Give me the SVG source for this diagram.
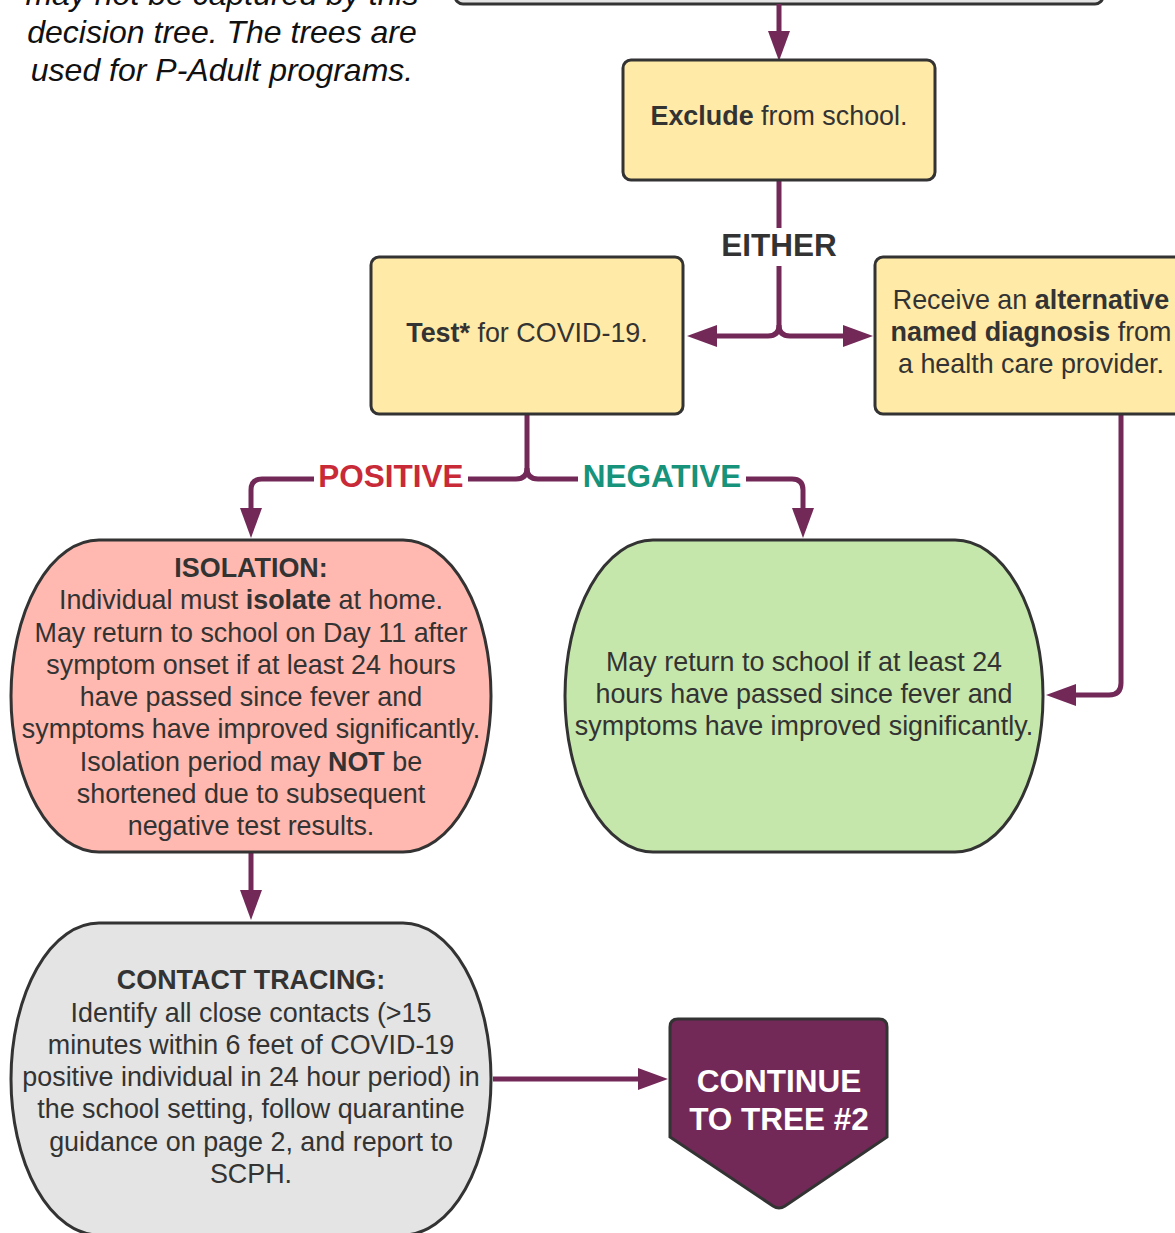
<svg xmlns="http://www.w3.org/2000/svg" width="1175" height="1233" viewBox="0 0 1175 1233">
<style>
text{font-family:"Liberation Sans",Arial,sans-serif;}
.t{font-size:26.9px;fill:#333333;text-anchor:middle;}
.b{font-weight:bold;}
.node{stroke:#333333;stroke-width:3;}
.yel{fill:#ffeaa7;}
.conn{fill:none;stroke:#722958;stroke-width:5;marker-end:url(#ah);}
.seg{fill:none;stroke:#722958;stroke-width:5;}
.lbl{font-size:31.5px;font-weight:bold;text-anchor:middle;}
.note{font-size:32px;font-style:italic;fill:#111111;text-anchor:middle;}
</style>
<defs>
<marker id="ah" viewBox="0 0 30 22" refX="10" refY="11" markerWidth="30" markerHeight="22" markerUnits="userSpaceOnUse" orient="auto">
<path d="M0,0 L30,11 L0,22 Z" fill="#722958"/>
</marker>
</defs>
<rect width="1175" height="1233" fill="#ffffff"/>

<g id="note">
<text class="note" x="222" y="5">may not be captured by this</text>
<text class="note" x="222" y="43">decision tree. The trees are</text>
<text class="note" x="222" y="81">used for P-Adult programs.</text>
</g>

<g id="top-node">
<rect class="node" x="455" y="-60" width="648" height="64" rx="8" fill="#e4e4e4"/>
</g>

<g id="connectors">
<path class="conn" d="M779,4 V41"/>
<path class="seg" d="M779,180 V228"/>
<path class="conn" d="M779,266 V325 Q779,336 768,336 H707"/>
<path class="conn" d="M779,325 Q779,336 790,336 H853"/>
<path class="conn" d="M527,414 V468 Q527,479 516,479 H262 Q251,479 251,490 V518"/>
<path class="conn" d="M527,468 Q527,479 538,479 H792 Q803,479 803,490 V518"/>
<path class="conn" d="M1121,414 V683 Q1121,695 1109,695 H1066"/>
<path class="conn" d="M251,852 V900"/>
<path class="conn" d="M493,1079 H648"/>
</g>

<g id="label-either">
<rect x="715" y="228" width="128" height="38" fill="#ffffff"/>
<text class="lbl" x="779" y="256" fill="#333333">EITHER</text>
</g>
<g id="label-positive">
<rect x="314" y="462" width="154" height="34" fill="#ffffff"/>
<text class="lbl" x="391" y="487" fill="#c92a38">POSITIVE</text>
</g>
<g id="label-negative">
<rect x="578" y="462" width="168" height="34" fill="#ffffff"/>
<text class="lbl" x="662" y="487" fill="#17937b">NEGATIVE</text>
</g>

<g id="exclude">
<rect class="node yel" x="623" y="60" width="312" height="120" rx="8"/>
<text class="t" x="779" y="125"><tspan class="b">Exclude</tspan> from school.</text>
</g>

<g id="test">
<rect class="node yel" x="371" y="257" width="312" height="157" rx="8"/>
<text class="t" x="527" y="342"><tspan class="b">Test*</tspan> for COVID-19.</text>
</g>

<g id="alternative">
<rect class="node yel" x="875" y="257" width="312" height="157" rx="8"/>
<text class="t" x="1031" y="309">Receive an <tspan class="b">alternative</tspan></text>
<text class="t" x="1031" y="341"><tspan class="b">named diagnosis</tspan> from</text>
<text class="t" x="1031" y="373">a health care provider.</text>
</g>

<g id="isolation">
<path class="node" fill="#ffb9b0" d="M99,540 H403 A88,156 0 0 1 491,696 A88,156 0 0 1 403,852 H99 A88,156 0 0 1 11,696 A88,156 0 0 1 99,540 Z"/>
<text class="t b" x="251" y="577">ISOLATION:</text>
<text class="t" x="251" y="609">Individual must <tspan class="b">isolate</tspan> at home.</text>
<text class="t" x="251" y="642">May return to school on Day 11 after</text>
<text class="t" x="251" y="674">symptom onset if at least 24 hours</text>
<text class="t" x="251" y="706">have passed since fever and</text>
<text class="t" x="251" y="738">symptoms have improved significantly.</text>
<text class="t" x="251" y="771">Isolation period may <tspan class="b">NOT</tspan> be</text>
<text class="t" x="251" y="803">shortened due to subsequent</text>
<text class="t" x="251" y="835">negative test results.</text>
</g>

<g id="return">
<path class="node" fill="#c6e7ab" d="M653,540 H955 A88,156 0 0 1 1043,696 A88,156 0 0 1 955,852 H653 A88,156 0 0 1 565,696 A88,156 0 0 1 653,540 Z"/>
<text class="t" x="804" y="671">May return to school if at least 24</text>
<text class="t" x="804" y="703">hours have passed since fever and</text>
<text class="t" x="804" y="735">symptoms have improved significantly.</text>
</g>

<g id="contact-tracing">
<path class="node" fill="#e4e4e4" d="M99,923 H403 A88,156 0 0 1 491,1079 A88,156 0 0 1 403,1235 H99 A88,156 0 0 1 11,1079 A88,156 0 0 1 99,923 Z"/>
<text class="t b" x="251" y="989">CONTACT TRACING:</text>
<text class="t" x="251" y="1022">Identify all close contacts (&gt;15</text>
<text class="t" x="251" y="1054">minutes within 6 feet of COVID-19</text>
<text class="t" x="251" y="1086">positive individual in 24 hour period) in</text>
<text class="t" x="251" y="1118">the school setting, follow quarantine</text>
<text class="t" x="251" y="1151">guidance on page 2, and report to</text>
<text class="t" x="251" y="1183">SCPH.</text>
</g>

<g id="continue">
<path class="node" fill="#722958" d="M678,1019 H879 Q887,1019 887,1027 V1137 L785,1206 Q779,1210 773,1206 L670,1137 V1027 Q670,1019 678,1019 Z"/>
<text class="lbl" x="779" y="1092" fill="#ffffff">CONTINUE</text>
<text class="lbl" x="779" y="1130" fill="#ffffff">TO TREE #2</text>
</g>
</svg>
